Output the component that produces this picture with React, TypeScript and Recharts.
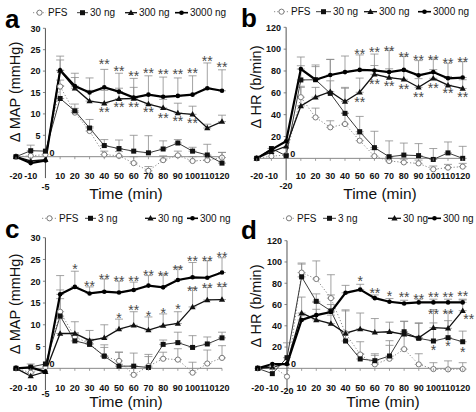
import { ComposedChart, Line, XAxis, YAxis, ReferenceLine, ErrorBar, Scatter } from 'recharts';

const FONT = '"Liberation Sans", Arial, Helvetica, sans-serif';

// shared axes
const times = [-20, -10, 0, 10, 20, 30, 40, 50, 60, 70, 80, 90, 100, 110, 120];
const xTicks = [-20, -10, 10, 20, 30, 40, 50, 60, 70, 80, 90, 100, 110, 120];
const mapTicks = [-5, 0, 5, 10, 15, 20, 25, 30];
const hrTicks = [-20, 0, 20, 40, 60, 80, 100, 120];

const abLabels = ['PFS', '30 ng', '300 ng', '3000 ng'];
const cdLabels = ['PFS', '3 ng', '30 ng', '300 ng'];

// a: MAP
const aPfs = [0, 0.2, 0.5, 16.4, 10.3, 6, 0.5, 0.2, -1.5, -3.3, -0.8, 0.3, -1, -0.8, -0.2];
const aPfsErr = [null, null, null, 1.5, 1, 1, 0.8, 1, 1.5, 1, 1, 1, 1, 1, 1.2];
const a30 = [0, 1.4, 1.3, 13.6, 10.7, 6.7, 2.6, 1.9, 1.3, 0.9, 1.8, 3.2, 1.3, 0.4, -1.5];
const a30Err = [null, 1.3, null, 3, 1.6, 2, 1.4, 2, 3.7, 4, 1.9, 0.8, 0.9, 2.5, 2.5];
const a300 = [0, -1, -0.7, 20.1, 16, 13, 12.5, 13.5, 13.6, 12.3, 11.4, 10.2, 9.9, 6.7, 8.2];
const a300Err = [null, null, null, 2.5, 2.5, 2.5, 3, 2.5, 2.6, 2, 2, 2.3, 1.9, 0.9, 1.5];
const a3000 = [0, -1.5, -0.9, 20.2, 16.5, 15, 16.2, 15.2, 13.8, 14.5, 14, 14.2, 14.5, 16, 15.4];
const a3000Err = [null, null, null, 3.3, 3, 3.4, 4.2, 4.3, 4.5, 4.4, 4.6, 4.2, 4.4, 5.9, 4.9];
const aStars: [number, number, string, number?][] = [
  [40, 22.4, '**'], [50, 20.7, '**'], [60, 19.6, '**'], [70, 20.1, '**'], [80, 19.9, '**'],
  [90, 19.9, '**'], [100, 20.1, '**'], [110, 23, '**'], [120, 21.6, '**'],
  [40, 11, '**'], [50, 12.2, '**'], [60, 12.2, '**'], [70, 11, '**'], [80, 9.7, '**'],
  [90, 9, '**'], [100, 8.6, '**'],
];

// b: HR
const bPfs = [0, 2, 3, 56, 37.5, 28.4, 31.4, 16.2, 2, -2.4, -3.7, -4.6, -10, -8.5, -7.6];
const bPfsErr = [null, null, null, 9, 8.5, 6, 10, 6, 6, 3, 3, 3, 3, 3, 3];
const b30 = [0, 9, 2.4, 71.8, 72, 59.5, 41.2, 24.4, 9.8, 1.5, 3, 2.5, -1, 5, 0];
const b30Err = [null, null, null, 13, 12, 31, 23, 14, 15, 14.5, 11, 11, 10, 10, 11];
const b300 = [0, 6, 11, 48, 56, 61, 52, 60.5, 77, 74, 72.4, 65, 73.3, 67, 64];
const b300Err = [null, 3, null, 18, 9, 10, 13, 13, 8, 8, 8, 8, 8, 8, 8];
const b3000 = [0, 8, 15.6, 81.8, 72, 76.3, 79, 81, 80.5, 79, 81, 76, 79, 73.3, 74];
const b3000Err = [null, null, null, 11, 13.5, 14.4, 14.7, 13.7, 15, 20, 12.5, 13.5, 12, 13.7, 14.5];
const bStars: [number, number, string, number?][] = [
  [50, 97.7, '**'], [60, 100, '**'], [70, 101, '**'], [80, 95, '**'], [90, 92.5, '**'],
  [100, 93, '**'], [110, 89.5, '**'], [120, 90.7, '**'],
  [50, 54, '**'], [60, 71, '**'], [70, 69, '**'], [80, 66, '**'], [90, 59, '**'],
  [100, 67, '**'], [110, 62, '**'], [120, 58.6, '**'],
];

// c: MAP
const cPfs = [0, -1, 0.3, 13, 7.2, 5.7, 2.8, 1.7, -1.5, 0.5, 2.2, 2, -1, 1.1, 2.4];
const cPfsErr = [null, 2, null, 3, 1, 1, 2.6, 2, 2, 2.2, 1.5, 2.5, 2.4, 3.1, 2.8];
const c3 = [0, 0.3, 1, 12, 6.3, 5.5, 2.8, 0.5, 0.5, 0.2, 5.5, 5.9, 4.8, 5.6, 7];
const c3Err = [null, null, null, 6, 1.2, 0.8, 2, 3.2, 3, 3, 1, 2.4, 2.7, 1.6, 1.3];
const c30 = [0, -1.8, -0.8, 8, 8, 6.4, 7, 9, 9.9, 8.8, 9.8, 10.3, 14.1, 15.7, 15.8];
const c30Err = [null, null, null, 3.5, 2.7, 2.3, 3, 2.3, 3.1, 3, 2.7, 2.7, 4.4, 2.9, 3];
const c300 = [0, 0.2, -0.8, 17, 18.7, 17.2, 17.6, 17.4, 18, 19, 18.6, 20.3, 20.9, 20.8, 22];
const c300Err = [null, null, null, 4.3, 3.6, 1.5, 2.9, 2.6, 1.8, 2.3, 2.9, 3, 3.4, 3.9, 3.4];
const cStars: [number, number, string, number?][] = [
  [20, 23.5, '*'], [30, 19.5, '**'], [40, 21.2, '**'], [50, 20.8, '**'], [60, 20.6, '**'],
  [70, 22, '**'], [80, 21.8, '**'], [90, 23.3, '**'], [100, 25.2, '**'], [110, 25.4, '**'],
  [120, 26.2, '**'],
  [50, 12.2, '*'], [60, 14.1, '**'], [70, 12.6, '*'], [80, 13.4, '*'], [90, 14.3, '*'],
  [100, 18.5, '**'], [110, 19.2, '**'], [120, 19.4, '**'],
];

// d: HR
const dPfs = [0, 2, -7.8, 90, 84, 66, 33, 13, 3.7, 9, 18, 3.7, -0.7, -1, -0.7];
const dPfsErr = [null, null, null, 8, 17, 22, 22, 12, 10, 17, 15, 10, 6, 8, 6];
const d3 = [0, -5, 10, 86, 63, 54, 25.7, 8.8, 7.2, 11.6, 34.4, 28.2, 25.7, 28.8, 25];
const d3Err = [null, null, 14, 13, 7, 15, 8, 5, 5, 10, 10, 14, 17, 16, 10];
const d30 = [0, 1, 5, 52, 45.5, 42, 33, 37, 33.8, 34.4, 32, 28.8, 38.2, 37.6, 54.2];
const d30Err = [null, null, null, 15, 10, 8, 21, 15, 13, 9, 12, 14, 17, 15, 10];
const d300 = [0, 4, 4, 45.5, 50, 53, 71, 74, 66, 62.6, 61, 62, 62, 62, 62];
const d300Err = [null, null, null, 4, 12, 7, 7, 5, 3, 3, 3, 3, 3, 3, 3];
const dStars: [number, number, string, number?][] = [
  [50, 85, '*'], [60, 73.6, '**'], [70, 70.5, '*'], [80, 70, '**'], [90, 68, '**'],
  [100, 70, '**'], [110, 70, '**'], [120, 71, '**'],
  [100, 54, '**'], [110, 53.5, '**'], [120, 49, '**', 6],
  [100, 19.7, '*'], [110, 24, '*'], [120, 18, '*'],
];

const KINDS = ['pfs', 'low', 'mid', 'high'];
const LINE_STYLE: Record<string, { stroke: string; width: number; dash?: string }> = {
  pfs: { stroke: '#8a8a8a', width: 1, dash: '1.2 2' },
  low: { stroke: '#3a3a3a', width: 1 },
  mid: { stroke: '#111', width: 1.3 },
  high: { stroke: '#000', width: 2.2 },
};

function Marker({ kind, cx, cy }: { kind: string; cx: number; cy: number }) {
  if (kind === 'pfs') return <circle cx={cx} cy={cy} r={2.6} fill="#fff" stroke="#7a7a7a" strokeWidth={1} />;
  if (kind === 'low') return <rect x={cx - 2.5} y={cy - 2.5} width={5} height={5} fill="#111" />;
  if (kind === 'mid')
    return <polygon points={`${cx},${cy - 3.3} ${cx + 3.1},${cy + 2.2} ${cx - 3.1},${cy + 2.2}`} fill="#111" />;
  return <circle cx={cx} cy={cy} r={2.3} fill="#000" />;
}

function buildRows(vals: number[][], errs: (number | null)[][]) {
  return times.map((t, i) => {
    const row: Record<string, any> = { t };
    vals.forEach((v, j) => {
      row[`s${j}`] = v[i];
      row[`e${j}`] = errs[j][i] == null ? null : [0, errs[j][i]];
    });
    return row;
  });
}

type PanelProps = {
  px: number; py: number; w: number; h: number;
  plot: { left: number; right: number; top: number; bottom: number };
  yMin: number; yMax: number; yTicks: number[];
  rows: Record<string, any>[];
  stars: [number, number, string, number?][];
  letter: string; letterY: number;
  labels: string[];
  legend: { y: number; sx: number[]; tx: number[] };
  yTitle: string; yTitleX: number; yTitleY: number;
  xTitleX: number; xTitleY: number;
  xLabOff: number; minLabOff: number;
};

function Panel(p: PanelProps) {
  const pw = p.plot.right - p.plot.left;
  const ph = p.plot.bottom - p.plot.top;
  const axisX = p.plot.left + (pw * 20) / 140;
  const y0 = p.plot.top + (ph * p.yMax) / (p.yMax - p.yMin);
  const starRows = p.stars.map(([t, v, s, dx]) => ({ t, v, s, dx: dx || 0 }));
  const tickFont = { fontFamily: FONT, fontSize: 9, fontWeight: 700, fill: '#111' };

  const renderXTick = (t: any) => (
    <g key={`x${t.index}`}>
      <line x1={t.x} x2={t.x} y1={y0} y2={y0 + 2.5} stroke="#888" strokeWidth={0.8} />
      <text x={t.x} y={y0 + p.xLabOff + 3.3} textAnchor="middle" {...tickFont}>
        {t.payload.value}
      </text>
    </g>
  );

  const renderYTick = (t: any) => {
    const v = t.payload.value;
    if (v === p.yMin)
      return (
        <text key={`y${t.index}`} x={axisX} y={y0 + p.minLabOff + 3.3} textAnchor="middle" {...tickFont}>
          {v}
        </text>
      );
    if (v === 0)
      return (
        <text key={`y${t.index}`} x={axisX + 4} y={t.y - 1} textAnchor="start" {...tickFont}>
          0
        </text>
      );
    return (
      <g key={`y${t.index}`}>
        <line x1={axisX - 2.5} x2={axisX} y1={t.y} y2={t.y} stroke="#666" strokeWidth={0.8} />
        <text x={axisX - 5} y={t.y + 3.3} textAnchor="end" {...tickFont}>
          {v}
        </text>
      </g>
    );
  };

  return (
    <div style={{ position: 'absolute', left: p.px, top: p.py, width: p.w, height: p.h }}>
      <ComposedChart
        width={p.w}
        height={p.h}
        data={p.rows}
        margin={{ left: p.plot.left - 1, right: p.w - p.plot.right, top: p.plot.top, bottom: p.h - p.plot.bottom - 20 }}
      >
        <XAxis
          type="number"
          dataKey="t"
          domain={[-20, 120]}
          ticks={xTicks}
          interval={0}
          axisLine={false}
          tickLine={false}
          height={20}
          tick={renderXTick}
        />
        <YAxis
          type="number"
          domain={[p.yMin, p.yMax]}
          ticks={p.yTicks}
          interval={0}
          axisLine={false}
          tickLine={false}
          width={1}
          tick={renderYTick}
        />
        <ReferenceLine y={0} stroke="#888" strokeWidth={1} />
        <ReferenceLine x={0} stroke="#555" strokeWidth={1} />
        {KINDS.map((k, j) => (
          <Line
            key={k}
            dataKey={`s${j}`}
            stroke={LINE_STYLE[k].stroke}
            strokeWidth={LINE_STYLE[k].width}
            strokeDasharray={LINE_STYLE[k].dash}
            dot={(d: any) => <Marker key={`${k}${d.index}`} kind={k} cx={d.cx} cy={d.cy} />}
            activeDot={false}
            isAnimationActive={false}
          >
            <ErrorBar dataKey={`e${j}`} width={4} stroke="#8c8c8c" strokeWidth={0.8} />
          </Line>
        ))}
        <Scatter
          data={starRows}
          dataKey="v"
          isAnimationActive={false}
          shape={(s: any) => (
            <text
              x={s.cx + s.payload.dx}
              y={s.cy + 7.8}
              textAnchor="middle"
              fontFamily={FONT}
              fontSize={14}
              fill="#4a4a4a"
            >
              {s.payload.s}
            </text>
          )}
        />
      </ComposedChart>
      <svg
        width={p.w}
        height={p.h}
        style={{ position: 'absolute', left: 0, top: 0, pointerEvents: 'none', fontFamily: FONT }}
      >
        <text x={p.px === 0 ? 5 : 3} y={p.letterY} fontSize={26} fontWeight={700} fill="#000">
          {p.letter}
        </text>
        {KINDS.map((k, j) => {
          const x1 = p.legend.sx[j];
          const x2 = p.legend.tx[j] - 2;
          const st = LINE_STYLE[k];
          return (
            <g key={k}>
              <line x1={x1} x2={x2} y1={p.legend.y} y2={p.legend.y} stroke={st.stroke} strokeWidth={Math.min(st.width, 1.6)} strokeDasharray={st.dash} />
              <Marker kind={k} cx={(x1 + x2) / 2} cy={p.legend.y} />
              <text x={p.legend.tx[j]} y={p.legend.y + 3.6} fontSize={10} fill="#111">
                {p.labels[j]}
              </text>
            </g>
          );
        })}
        <text
          x={p.yTitleX}
          y={p.yTitleY}
          fontSize={14.5}
          fill="#111"
          textAnchor="middle"
          dominantBaseline="central"
          transform={`rotate(-90 ${p.yTitleX} ${p.yTitleY})`}
        >
          {p.yTitle}
        </text>
        <text x={p.xTitleX} y={p.xTitleY + 5.5} fontSize={15.5} fill="#111" textAnchor="middle">
          Time (min)
        </text>
      </svg>
    </div>
  );
}

export default function App() {
  return (
    <div style={{ position: 'absolute', left: 0, top: 0, width: 476, height: 412, background: '#fff' }}>
      <Panel
        px={0} py={0} w={238} h={206}
        plot={{ left: 16, right: 222, top: 28.3, bottom: 178.1 }}
        yMin={-5} yMax={30} yTicks={mapTicks}
        rows={buildRows([aPfs, a30, a300, a3000], [aPfsErr, a30Err, a300Err, a3000Err])}
        stars={aStars}
        letter="a" letterY={28}
        labels={abLabels}
        legend={{ y: 12.7, sx: [33, 77, 125, 175], tx: [48, 90, 139, 190] }}
        yTitle="Δ MAP (mmHg)" yTitleX={15} yTitleY={92}
        xTitleX={126} xTitleY={193}
        xLabOff={19.3} minLabOff={30}
      />
      <Panel
        px={238} py={0} w={238} h={206}
        plot={{ left: 18.7, right: 224.7, top: 27.3, bottom: 180.2 }}
        yMin={-20} yMax={120} yTicks={hrTicks}
        rows={buildRows([bPfs, b30, b300, b3000], [bPfsErr, b30Err, b300Err, b3000Err])}
        stars={bStars}
        letter="b" letterY={27}
        labels={abLabels}
        legend={{ y: 11.7, sx: [36, 78, 126, 180], tx: [53, 95, 141, 195] }}
        yTitle="Δ HR (b/min)" yTitleX={18} yTitleY={87}
        xTitleX={142} xTitleY={193}
        xLabOff={17.7} minLabOff={27.4}
      />
      <Panel
        px={0} py={206} w={238} h={206}
        plot={{ left: 16, right: 222, top: 31.7, bottom: 184.1 }}
        yMin={-5} yMax={30} yTicks={mapTicks}
        rows={buildRows([cPfs, c3, c30, c300], [cPfsErr, c3Err, c30Err, c300Err])}
        stars={cStars}
        letter="c" letterY={32}
        labels={cdLabels}
        legend={{ y: 12.3, sx: [42, 85, 145, 187], tx: [59, 98, 158, 200] }}
        yTitle="Δ MAP (mmHg)" yTitleX={15} yTitleY={98}
        xTitleX={126} xTitleY={195}
        xLabOff={19.4} minLabOff={25.7}
      />
      <Panel
        px={238} py={206} w={238} h={206}
        plot={{ left: 19.7, right: 224.7, top: 34.7, bottom: 183.6 }}
        yMin={-20} yMax={120} yTicks={hrTicks}
        rows={buildRows([dPfs, d3, d30, d300], [dPfsErr, d3Err, d30Err, d300Err])}
        stars={dStars}
        letter="d" letterY={33}
        labels={cdLabels}
        legend={{ y: 12.3, sx: [45, 85, 150, 190], tx: [59, 100, 165, 205] }}
        yTitle="Δ HR (b/min)" yTitleX={18} yTitleY={100}
        xTitleX={145} xTitleY={195}
        xLabOff={19.4} minLabOff={22.7}
      />
    </div>
  );
}
